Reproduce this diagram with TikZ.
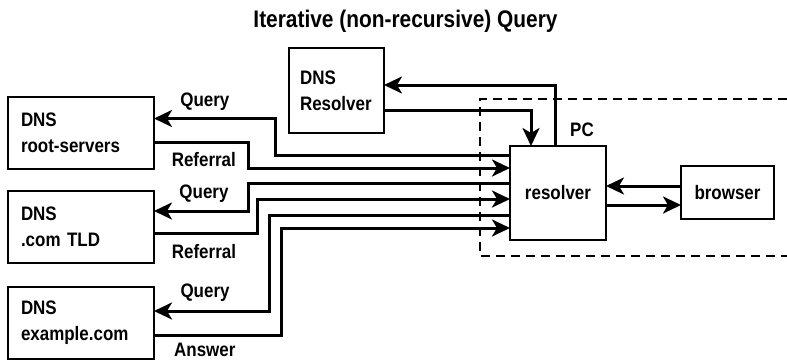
\documentclass[tikz,border=0pt]{standalone}
\usepackage{fontspec}
\setmainfont{Liberation Sans}[FakeStretch=0.87,UprightFont=* Bold]
\usetikzlibrary{arrows.meta,calc}

\begin{document}
\begin{tikzpicture}[x=1pt,y=-1pt,->,>={Stealth[length=18pt,width=17pt,inset=5pt]},
    line width=3pt,
    srv node/.style={draw,line width=2pt,outer sep=0pt,inner xsep=13pt,inner ysep=0pt,
      text width=120pt,minimum height=72pt,align=left,font=\fontsize{19.5}{26}\selectfont},
    main node/.style={draw,line width=2pt,outer sep=0pt,inner sep=0pt,
      font=\fontsize{19.5}{26}\selectfont},
    lbl/.style={font=\fontsize{19.5}{22}\selectfont,inner sep=0pt},
    pc zone/.style={-,line width=2pt,dash pattern=on 9pt off 6pt}]
    \useasboundingbox (0,0) rectangle (787,360);
    \node[font=\fontsize{24}{28}\selectfont,anchor=base] (title) at (405.5,27) {Iterative (non-recursive) Query};
    \node[srv node] (root_srv) at (81,132.5) {DNS\\root-servers};
    \node[srv node] (tld_srv) at (81,227) {DNS\\.com TLD};
    \node[srv node] (ex_srv) at (81,323) {DNS\\example.com};
    \node[srv node,text width=73pt,inner xsep=11pt,minimum height=85pt] (dns_res) at (336.5,90.5) {DNS\\Resolver};
    \node[main node,minimum width=96pt,minimum height=94pt] (resolver) at (558,193) {resolver};
    \node[main node,minimum width=93pt,minimum height=53pt] (browser) at (727.5,192.5) {browser};
    \node[lbl] (pc_lbl) at (582,130) {PC};
    % PC boundary, open to the right
    \draw[pc zone] (787,99) -| (480,256) -- (787,256);
    % root servers
    \draw ($(resolver.north west)+(0,9)$) -- ++(-235,0) |- node[lbl,pos=0.79,above=6pt] {Query} ($(root_srv.north east)+(0,22)$);
    \draw ($(root_srv.north east)+(0,46)$) -- node[lbl,pos=0.53,below=8pt] {Referral} ++(94,0) |- ($(resolver.north west)+(0,22)$);
    % .com TLD
    \draw ($(resolver.north west)+(0,37)$) -- ++(-262,0) |- node[lbl,pos=0.734,above=7pt] {Query} ($(tld_srv.north east)+(0,20)$);
    \draw ($(tld_srv.north east)+(0,42)$) -- node[lbl,pos=0.485,below=10pt] {Referral} ++(103,0) |- ($(resolver.north west)+(0,53)$);
    % example.com
    \draw ($(resolver.north west)+(0,69)$) -- ++(-241,0) |- node[lbl,pos=0.778,above=8pt] {Query} ($(ex_srv.north east)+(0,24)$);
    \draw ($(ex_srv.north east)+(0,48)$) -- node[lbl,pos=0.40,below=7pt] {Answer} ++(127,0) |- ($(resolver.north west)+(0,82)$);
    % DNS resolver
    \draw ($(resolver.north west)+(45,0)$) |- ($(dns_res.north east)+(0,37)$);
    \draw ($(dns_res.north east)+(0,62)$) -| ($(resolver.north west)+(21,0)$);
    % browser
    \draw ($(browser.north west)+(0,20)$) coordinate (b_out) -- (b_out -| resolver.east);
    \draw ($(resolver.north east)+(0,59)$) coordinate (r_out) -- (r_out -| browser.west);
\end{tikzpicture}
\end{document}
